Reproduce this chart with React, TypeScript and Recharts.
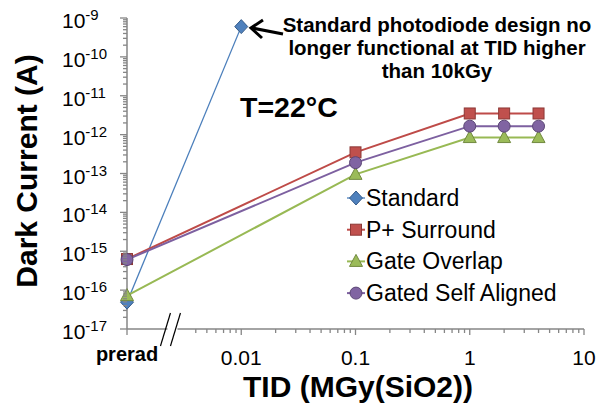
import React from "react";
import { LineChart, Line, XAxis, YAxis } from "recharts";

// TID (MGy) values; prerad is drawn at 0.001 behind the axis break
const standardTid = [0.001, 0.01];
const standardCurrent = [4.9e-17, 6e-10];

const tidSteps = [0.001, 0.1, 1, 2, 4];
const pSurroundCurrent = [6.3e-16, 3.5e-13, 3.5e-12, 3.5e-12, 3.5e-12];
const gateOverlapCurrent = [7.2e-17, 9.5e-14, 8.4e-13, 8.4e-13, 8.4e-13];
const gatedSelfAlignedCurrent = [6.1e-16, 1.9e-13, 1.65e-12, 1.65e-12, 1.65e-12];

const xMajorTicks = [0.001, 0.01, 0.1, 1, 10];
const xTickLabels = ["prerad", "0.01", "0.1", "1", "10"];
const yExponents = [-17, -16, -15, -14, -13, -12, -11, -10, -9];
const breakAt = 0.0025;

const FONT = "'Liberation Sans', Arial, sans-serif";
const AXIS = "#868686";

type Shape = "diamond" | "square" | "triangle" | "circle";

const series = [
  { name: "Standard", shape: "diamond" as Shape, line: "#4A7EBB", fill: "#4F81BD", edge: "#385D8A", width: 1.3, xs: standardTid, ys: standardCurrent },
  { name: "P+ Surround", shape: "square" as Shape, line: "#BE4B48", fill: "#C0504D", edge: "#8C3836", width: 2, xs: tidSteps, ys: pSurroundCurrent },
  { name: "Gate Overlap", shape: "triangle" as Shape, line: "#98B954", fill: "#9BBB59", edge: "#71893F", width: 2, xs: tidSteps, ys: gateOverlapCurrent },
  { name: "Gated Self Aligned", shape: "circle" as Shape, line: "#7D60A0", fill: "#8064A2", edge: "#5C4776", width: 2, xs: tidSteps, ys: gatedSelfAlignedCurrent },
];

const isPow10 = (v: number) => {
  const e = Math.log10(v);
  return Math.abs(e - Math.round(e)) < 1e-6;
};

// minor ticks: the first decade starts at 4 because of the axis break
const xTicks: number[] = [breakAt];
xMajorTicks.forEach((m, i) => {
  xTicks.push(m);
  if (i < xMajorTicks.length - 1) {
    for (let k = i === 0 ? 4 : 2; k <= 9; k++) xTicks.push(k * m);
  }
});
const yTicks: number[] = [];
yExponents.forEach((e, i) => {
  const m = Math.pow(10, e);
  yTicks.push(m);
  if (i < yExponents.length - 1) for (let k = 2; k <= 9; k++) yTicks.push(k * m);
});

function Marker({ cx, cy, shape, fill, edge }: any) {
  if (cx == null || cy == null) return null;
  if (shape === "diamond")
    return <polygon points={`${cx},${cy - 7} ${cx + 6.5},${cy} ${cx},${cy + 7} ${cx - 6.5},${cy}`} fill={fill} stroke={edge} strokeWidth={1} />;
  if (shape === "square")
    return <rect x={cx - 5.5} y={cy - 5.5} width={11} height={11} fill={fill} stroke={edge} strokeWidth={1} />;
  if (shape === "triangle")
    return <polygon points={`${cx},${cy - 7} ${cx + 6.5},${cy + 5} ${cx - 6.5},${cy + 5}`} fill={fill} stroke={edge} strokeWidth={1} />;
  return <circle cx={cx} cy={cy} r={6} fill={fill} stroke={edge} strokeWidth={1} />;
}

function XTick({ x, y, payload }: any) {
  const v = payload.value;
  if (v === breakAt) {
    return (
      <g>
        <rect x={x - 5} y={y - 3} width={10} height={6} fill="#fff" />
        <line x1={x - 12} y1={y + 17} x2={x - 2} y2={y - 16} stroke="#000" strokeWidth={1.2} />
        <line x1={x - 2} y1={y + 17} x2={x + 8} y2={y - 16} stroke="#000" strokeWidth={1.2} />
      </g>
    );
  }
  const idx = xMajorTicks.findIndex((m) => Math.abs(m - v) / m < 1e-6);
  const major = idx >= 0;
  return (
    <g>
      <line x1={x} x2={x} y1={y} y2={y + (major ? 6 : 4)} stroke={AXIS} strokeWidth={1.3} />
      {major && (
        <text
          x={x}
          y={y + (idx === 0 ? 32 : 36)}
          textAnchor="middle"
          fontFamily={FONT}
          fontSize={idx === 0 ? 20 : 21}
          fontWeight={idx === 0 ? "bold" : "normal"}
          fill="#000"
        >
          {xTickLabels[idx]}
        </text>
      )}
    </g>
  );
}

function YTick({ x, y, payload }: any) {
  const v = payload.value;
  const major = isPow10(v);
  return (
    <g>
      <line x1={x} x2={x - (major ? 7 : 4)} y1={y} y2={y} stroke={AXIS} strokeWidth={1.3} />
      {major && (
        <text x={x - 65} y={y + 10} textAnchor="start" fontFamily={FONT} fill="#000">
          <tspan fontSize={21}>10</tspan>
          <tspan fontSize={15} dy={-8}>{Math.round(Math.log10(v))}</tspan>
        </text>
      )}
    </g>
  );
}

export default function App() {
  return (
    <div style={{ position: "absolute", left: 0, top: 0, width: 607, height: 407, background: "#fff" }}>
      <LineChart width={607} height={407} margin={{ top: 18, right: 23, bottom: 0, left: 0 }}>
        <XAxis
          type="number"
          dataKey="x"
          scale="log"
          domain={[0.001, 10]}
          ticks={xTicks}
          interval={0}
          tick={<XTick />}
          tickSize={0}
          tickMargin={0}
          tickLine={false}
          axisLine={{ stroke: AXIS, strokeWidth: 1.5 }}
          height={78}
        />
        <YAxis
          type="number"
          scale="log"
          domain={[1e-17, 1e-9]}
          ticks={yTicks}
          interval={0}
          tick={<YTick />}
          tickSize={0}
          tickMargin={0}
          tickLine={false}
          axisLine={{ stroke: AXIS, strokeWidth: 1.5 }}
          width={127}
        />
        {series.map((s) => (
          <Line
            key={s.name}
            name={s.name}
            data={s.xs.map((x, i) => ({ x, y: s.ys[i] }))}
            dataKey="y"
            type="linear"
            stroke={s.line}
            strokeWidth={s.width}
            dot={(p: any) => <Marker key={`${s.name}-${p.index}`} cx={p.cx} cy={p.cy} shape={s.shape} fill={s.fill} edge={s.edge} />}
            isAnimationActive={false}
          />
        ))}
      </LineChart>
      <svg width={607} height={407} style={{ position: "absolute", left: 0, top: 0, pointerEvents: "none" }}>
        <text x={26} y={171} transform="rotate(-90 26 171)" textAnchor="middle" dominantBaseline="central" fontFamily={FONT} fontSize={30} fontWeight="bold">
          Dark Current (A)
        </text>
        <text x={358} y={397} textAnchor="middle" fontFamily={FONT} fontSize={30} fontWeight="bold">
          TID (MGy(SiO2))
        </text>
        <text x={240} y={117} fontFamily={FONT} fontSize={28.5} fontWeight="bold">
          T=22°C
        </text>
        <g fontFamily={FONT} fontSize={20.5} fontWeight="bold" textAnchor="middle">
          <text x={437} y={32}>Standard photodiode design no</text>
          <text x={437} y={55}>longer functional at TID higher</text>
          <text x={437} y={78}>than 10kGy</text>
        </g>
        <line x1={283} y1={34} x2={252} y2={28} stroke="#000" strokeWidth={3} />
        <polyline points="263,20 251,28 262,38" fill="none" stroke="#000" strokeWidth={3} />
        {series.map((s, i) => {
          const cy = 198 + i * 31.7;
          return (
            <g key={s.name}>
              <line x1={347} x2={365} y1={cy} y2={cy} stroke={s.line} strokeWidth={s.width} />
              <Marker cx={356} cy={cy} shape={s.shape} fill={s.fill} edge={s.edge} />
              <text x={366} y={cy + 8} fontFamily={FONT} fontSize={23} fill="#000">
                {s.name}
              </text>
            </g>
          );
        })}
      </svg>
    </div>
  );
}
